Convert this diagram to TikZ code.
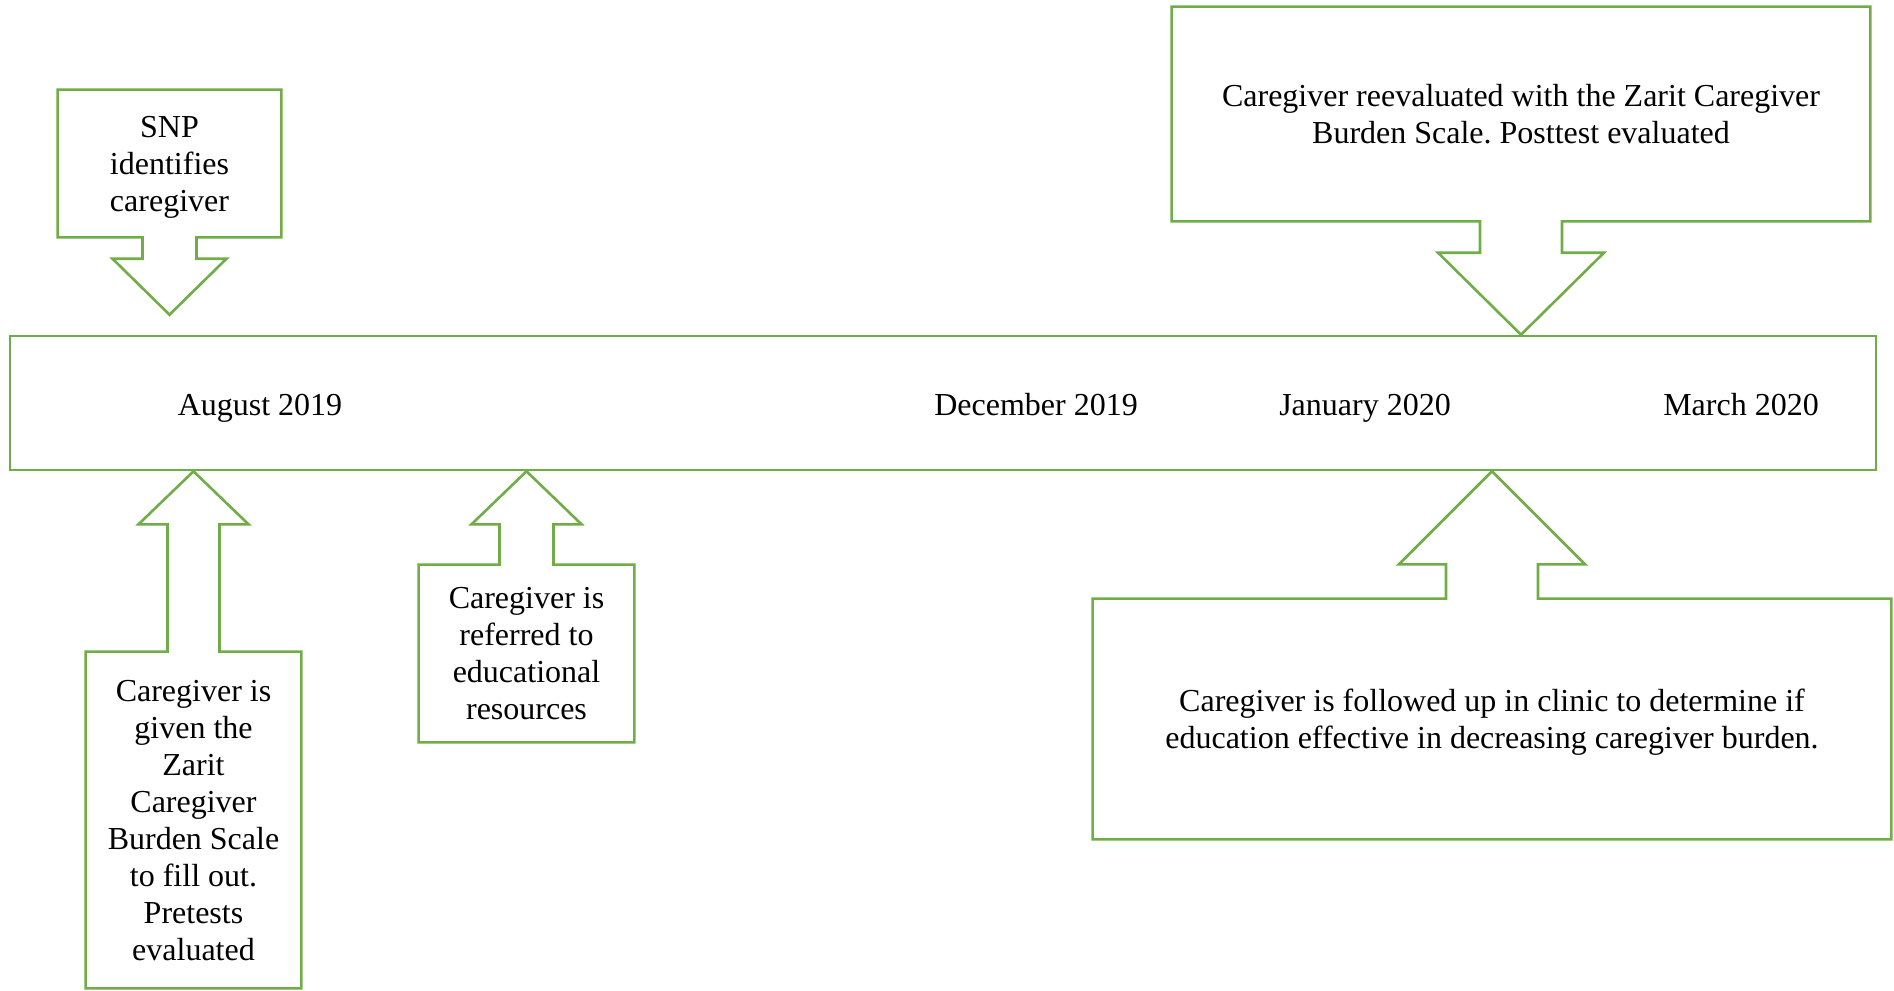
\documentclass[tikz,border=0pt]{standalone}
\usepackage{fontspec}
\setmainfont{Liberation Serif}
\usetikzlibrary{calc}
\definecolor{offgreen}{HTML}{70AD47}
\frenchspacing
\begin{document}
\begin{tikzpicture}[x=0.5pt,y=-0.5pt,
  outl/.style={draw=offgreen,line width=1.3pt,line join=miter},
  boxtext/.style={inner sep=0pt,align=center,text depth=0pt,font=\fontsize{16}{18.5}\selectfont\frenchspacing},
  datelbl/.style={inner sep=0pt,anchor=base,font=\fontsize{16}{18.5}\selectfont}]
\useasboundingbox (0,0) rectangle (1894,990);

% timeline
\node[outl,inner sep=0pt,minimum width=933pt,minimum height=67pt] (tl) at (943,403) {};
\node[datelbl] (aug) at (260,415) {August 2019};
\node[datelbl] (dec) at (1036,415) {December 2019};
\node[datelbl] (jan) at (1365,415) {January 2020};
\node[datelbl] (mar) at (1741,415) {March 2020};

% SNP box (down arrow)
\node[boxtext,minimum width=111.5pt,minimum height=73.5pt] (snp) at (169.5,163.5) {SNP\\identifies\\caregiver};
\coordinate (snptip) at ($(snp.south |- tl.north)+(0,-20)$);
\draw[outl] (snp.north west) -- (snp.north east) -- (snp.south east)
  -- ($(snp.south)+(27,0)$) -- ($(snptip)+(27,-56)$) -- ($(snptip)+(57,-56)$)
  -- (snptip) -- ($(snptip)+(-57,-56)$) -- ($(snptip)+(-27,-56)$)
  -- ($(snp.south)+(-27,0)$) -- (snp.south west) -- cycle;

% top right box (down arrow)
\node[boxtext,minimum width=349pt,minimum height=107pt] (tr) at (1521,114) {Caregiver reevaluated with the Zarit Caregiver\\Burden Scale. Posttest evaluated};
\coordinate (trtip) at (tr.south |- tl.north);
\draw[outl] (tr.north west) -- (tr.north east) -- (tr.south east)
  -- ($(tr.south)+(41,0)$) -- ($(trtip)+(41,-82)$) -- ($(trtip)+(83,-82)$)
  -- (trtip) -- ($(trtip)+(-83,-82)$) -- ($(trtip)+(-41,-82)$)
  -- ($(tr.south)+(-41,0)$) -- (tr.south west) -- cycle;

% bottom left box (up arrow)
\node[boxtext,minimum width=107.5pt,minimum height=168pt] (pre) at (193.5,820) {Caregiver is\\given the\\Zarit\\Caregiver\\Burden Scale\\to fill out.\\Pretests\\evaluated};
\coordinate (pretip) at (pre.north |- tl.south);
\draw[outl] (pre.south west) -- (pre.south east) -- (pre.north east)
  -- ($(pre.north)+(26,0)$) -- ($(pretip)+(26,53)$) -- ($(pretip)+(55,53)$)
  -- (pretip) -- ($(pretip)+(-55,53)$) -- ($(pretip)+(-26,53)$)
  -- ($(pre.north)+(-26,0)$) -- (pre.north west) -- cycle;

% educational resources box (up arrow)
\node[boxtext,minimum width=107.5pt,minimum height=88.5pt] (edu) at (526.5,653.5) {Caregiver is\\referred to\\educational\\resources};
\coordinate (edutip) at (edu.north |- tl.south);
\draw[outl] (edu.south west) -- (edu.south east) -- (edu.north east)
  -- ($(edu.north)+(27,0)$) -- ($(edutip)+(27,53)$) -- ($(edutip)+(55,53)$)
  -- (edutip) -- ($(edutip)+(-55,53)$) -- ($(edutip)+(-27,53)$)
  -- ($(edu.north)+(-27,0)$) -- (edu.north west) -- cycle;

% bottom right box (up arrow)
\node[boxtext,minimum width=399pt,minimum height=120pt] (fol) at (1492,719) {Caregiver is followed up in clinic to determine if\\education effective in decreasing caregiver burden.};
\coordinate (foltip) at (fol.north |- tl.south);
\draw[outl] (fol.south west) -- (fol.south east) -- (fol.north east)
  -- ($(fol.north)+(46,0)$) -- ($(foltip)+(46,93)$) -- ($(foltip)+(93,93)$)
  -- (foltip) -- ($(foltip)+(-93,93)$) -- ($(foltip)+(-46,93)$)
  -- ($(fol.north)+(-46,0)$) -- (fol.north west) -- cycle;
\end{tikzpicture}
\end{document}
